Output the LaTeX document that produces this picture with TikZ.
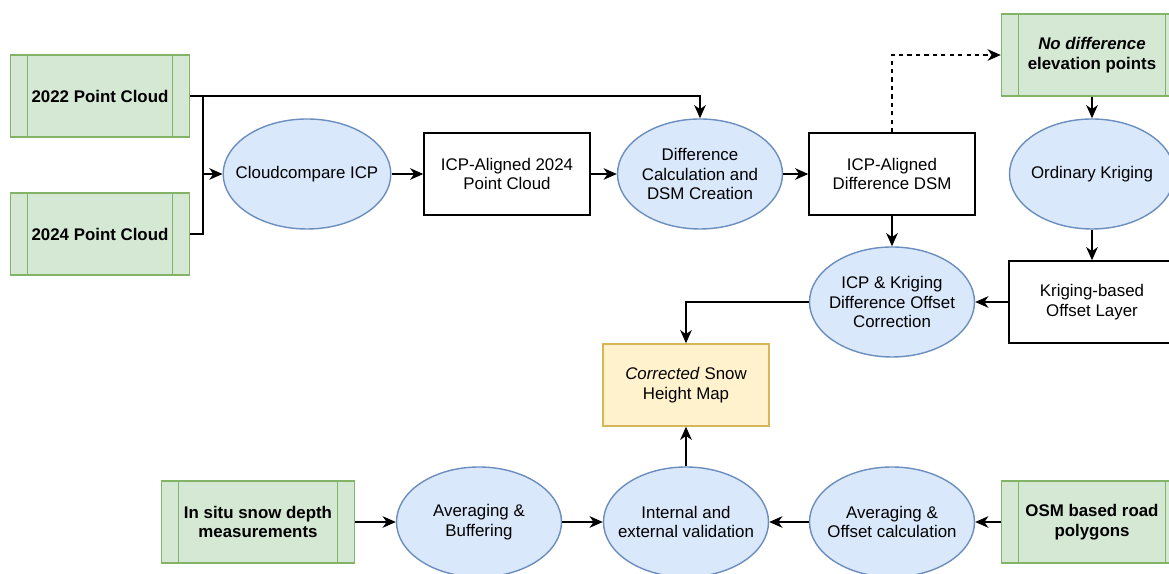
\documentclass[tikz,border=0pt]{standalone}
\usepackage{fontspec}
\setmainfont{Liberation Sans}
\usepackage{tikz}
\usetikzlibrary{arrows.meta,shapes,positioning,calc}
\usepackage{xcolor}
\definecolor{dsgreen}{RGB}{213,232,212}
\definecolor{dsgreenline}{RGB}{130,179,102}
\definecolor{opblue}{RGB}{218,232,252}
\definecolor{opblueline}{RGB}{108,142,191}
\definecolor{resyellow}{RGB}{255,242,204}
\definecolor{resyellowline}{RGB}{214,182,86}
\tikzstyle{dataset} = [rectangle, minimum width=4.475cm, minimum height=2.05cm, text centered, align=center, draw=dsgreenline, fill=dsgreen, line width=1pt, font=\fontsize{12}{14}\selectfont\bfseries,
  path picture={\draw[dsgreenline, line width=1pt] ([xshift=0.43cm]path picture bounding box.north west) -- ([xshift=0.43cm]path picture bounding box.south west);
                \draw[dsgreenline, line width=1pt] ([xshift=-0.43cm]path picture bounding box.north east) -- ([xshift=-0.43cm]path picture bounding box.south east);}]
\tikzstyle{process} = [ellipse, minimum width=4.125cm, minimum height=2.75cm, inner xsep=-0.3cm, inner ysep=0pt, text centered, align=center, draw=opblueline, fill=opblue, line width=1pt]
\tikzstyle{product} = [rectangle, minimum width=4.15cm, minimum height=2.05cm, text centered, align=center, draw=black, fill=white, line width=1pt]
\tikzstyle{result} = [product, draw=resyellowline, fill=resyellow]
\tikzstyle{line} = [line width=1pt, color=black]
\tikzstyle{arrow} = [line, -{Stealth[length=0.33cm, width=0.29cm, inset=0.1cm]}]

\begin{document}
\begin{tikzpicture}[font=\fontsize{12}{14}\selectfont]
\clip (0,0) rectangle (29.225,14.35);
\useasboundingbox (0,0) rectangle (29.225,14.35);

% Input point clouds
\node[dataset] (pc22) at (2.5,11.95) {2022 Point Cloud};
\node[dataset] (pc24) at (2.5,8.5) {2024 Point Cloud};

% Upper processing chain
\node[process] (icp) at (7.675,10.0) {Cloudcompare ICP};
\node[product] (aligned) at (12.675,10.0) {ICP-Aligned 2024\\Point Cloud};
\node[process] (diff) at (17.5,10.0) {Difference\\Calculation and\\DSM Creation};
\node[product] (dsm) at (22.3,10.0) {ICP-Aligned\\Difference DSM};

% Kriging branch
\node[dataset, minimum width=4.525cm] (nodiff) at (27.3,12.975) {\textit{No difference}\\elevation points};
\node[process] (krig) at (27.3,10.0) {Ordinary Kriging};
\node[product] (offset) at (27.3,6.8) {Kriging-based\\Offset Layer};
\node[process] (corr) at (22.3,6.8) {ICP \& Kriging\\Difference Offset\\Correction};

% Output
\node[result] (snow) at (17.15,4.725) {\textit{Corrected} Snow\\Height Map};

% Validation chain
\node[dataset, minimum width=4.825cm] (insitu) at (6.45,1.3) {In situ snow depth\\measurements};
\node[process] (buffer) at (11.975,1.3) {Averaging \&\\Buffering};
\node[process] (valid) at (17.15,1.3) {Internal and\\external validation};
\node[process] (osmoff) at (22.3,1.3) {Averaging \&\\Offset calculation};
\node[dataset, minimum width=4.525cm] (osm) at (27.3,1.3) {OSM based road\\polygons};

% Arrows
\coordinate (split) at (5.075,10.0);
\draw[line] (pc22.east) -| (split);
\draw[line] (pc24.east) -| (split);
\draw[arrow] (split) -- (icp.west);
\draw[arrow] (pc22.east) -| (diff.north);
\draw[arrow] (icp) -- (aligned);
\draw[arrow] (aligned) -- (diff);
\draw[arrow] (diff) -- (dsm);
\draw[arrow, dash pattern=on 3pt off 3pt] (dsm.north) |- (nodiff.west);
\draw[arrow] (nodiff) -- (krig);
\draw[arrow] (krig) -- (offset);
\draw[arrow] (offset) -- (corr);
\draw[arrow] (dsm) -- (corr);
\draw[arrow] (corr.west) -| (snow.north);
\draw[arrow] (valid) -- (snow);
\draw[arrow] (insitu) -- (buffer);
\draw[arrow] (buffer) -- (valid);
\draw[arrow] (osm) -- (osmoff);
\draw[arrow] (osmoff) -- (valid);
\end{tikzpicture}
\end{document}
